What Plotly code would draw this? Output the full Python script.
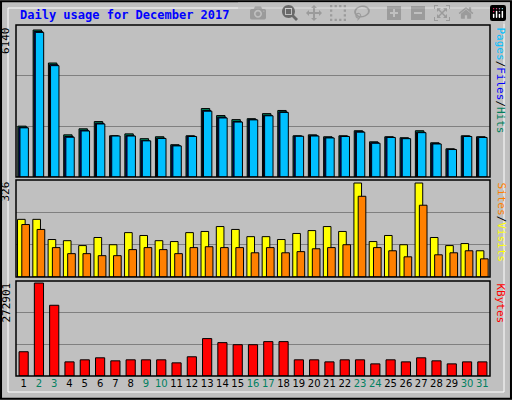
import plotly.graph_objects as go

days = list(range(1, 32))
weekend = {2, 3, 9, 10, 16, 17, 23, 24, 30, 31}
hits = [2110, 6100, 4730, 1750, 2000, 2300, 1710, 1790, 1590, 1670, 1340, 1710, 2840, 2550, 2380, 2420, 2630, 2760, 1710, 1750, 1670, 1710, 1920, 1460, 1670, 1630, 1920, 1420, 1170, 1710, 1670]
files = [2060, 6040, 4660, 1680, 1940, 2230, 1700, 1710, 1510, 1610, 1300, 1690, 2760, 2480, 2300, 2380, 2560, 2700, 1690, 1710, 1630, 1690, 1880, 1420, 1650, 1600, 1860, 1380, 1150, 1690, 1650]
pages = [2040, 6000, 4620, 1650, 1910, 2200, 1700, 1700, 1500, 1600, 1290, 1680, 2730, 2450, 2280, 2370, 2540, 2680, 1690, 1700, 1620, 1680, 1860, 1400, 1640, 1590, 1840, 1370, 1140, 1680, 1640]
visits = [200, 200, 130, 126, 109, 137, 112, 154, 144, 126, 123, 154, 158, 175, 165, 140, 140, 130, 151, 161, 175, 158, 326, 123, 144, 112, 326, 137, 109, 116, 91]
sites = [182, 165, 102, 81, 81, 74, 74, 95, 102, 95, 81, 102, 105, 102, 102, 84, 102, 84, 88, 98, 102, 112, 280, 102, 91, 70, 249, 77, 84, 91, 63]
kbytes = [71200, 272901, 207600, 41500, 47500, 53400, 44500, 47500, 47500, 47500, 38600, 56400, 109800, 97900, 91900, 91900, 100900, 100900, 47500, 47500, 41500, 47500, 47500, 35600, 47500, 41500, 53400, 44500, 35600, 41500, 41500]

BG = "#c0c0c0"
fig = go.Figure()
line = dict(color="black", width=1)
fig.add_bar(x=days, y=hits, width=0.55, offset=-0.38, marker=dict(color="#00805c", line=line), xaxis="x", yaxis="y")
fig.add_bar(x=days, y=files, width=0.55, offset=-0.31, marker=dict(color="#0000ff", line=line), xaxis="x", yaxis="y")
fig.add_bar(x=days, y=pages, width=0.55, offset=-0.24, marker=dict(color="#00c0ff", line=line), xaxis="x", yaxis="y")
fig.add_bar(x=days, y=visits, width=0.5, offset=-0.4, marker=dict(color="#ffff00", line=line), xaxis="x2", yaxis="y2")
fig.add_bar(x=days, y=sites, width=0.5, offset=-0.12, marker=dict(color="#ff8000", line=line), xaxis="x2", yaxis="y2")
fig.add_bar(x=days, y=kbytes, width=0.6, offset=-0.3, marker=dict(color="#ff0000", line=line), xaxis="x3", yaxis="y3")

xd = [16/512, 490/512]
r1, r2, r3 = 6140*151/147, 326*96/93, 272901*94/92
ticktext = [f"<span style='color:{'#008060' if d in weekend else 'black'}'>{d}</span>" for d in days]
xcommon = dict(domain=xd, range=[0.5, 31.5], showgrid=False, zeroline=False, fixedrange=True)
ycommon = dict(showticklabels=False, ticks="", zeroline=False, gridcolor="#808080", gridwidth=1)
fig.update_layout(
    width=512, height=400, margin=dict(l=0, r=0, t=0, b=0),
    paper_bgcolor=BG, plot_bgcolor=BG, showlegend=False, barmode="overlay",
    font=dict(family="DejaVu Sans Mono", size=11, color="black"),
    xaxis=dict(**xcommon, anchor="y", showticklabels=False),
    xaxis2=dict(**xcommon, anchor="y2", showticklabels=False),
    xaxis3=dict(**xcommon, anchor="y3", tickmode="array", tickvals=days, ticktext=ticktext, ticks="",
                tickangle=0, tickfont=dict(size=10, family="DejaVu Sans")),
    yaxis=dict(**ycommon, domain=[0.5575, 0.9375], range=[0, r1], tick0=0, dtick=r1/3),
    yaxis2=dict(**ycommon, domain=[0.3075, 0.55], range=[0, r2], tick0=0, dtick=r2/3),
    yaxis3=dict(**ycommon, domain=[0.06, 0.2975], range=[0, r3], tick0=0, dtick=r3/3),
)
shapes = [
    dict(type="rect", xref="paper", yref="paper", x0=0.002, x1=0.998, y0=0.003, y1=0.997, line=dict(color="black", width=2)),
    dict(type="rect", xref="paper", yref="paper", x0=8/512, x1=504/512, y0=8/400, y1=392/400, line=dict(color="white", width=1)),
]
for d in [[0.5575, 0.9375], [0.3075, 0.55], [0.06, 0.2975]]:
    shapes.append(dict(type="rect", xref="paper", yref="paper", x0=xd[0], x1=xd[1], y0=d[0], y1=d[1], line=dict(color="black", width=1.5)))
fig.update_layout(shapes=shapes)
ann = [
    dict(x=18/512, y=1-15/400, text="<b>Daily usage for December 2017</b>", showarrow=False, xanchor="left", yanchor="middle", font=dict(color="#0000ff", size=12, family="DejaVu Sans Mono")),
    dict(x=14/512, y=0.9375, text="6140", textangle=-90, showarrow=False, xanchor="right", yanchor="top"),
    dict(x=14/512, y=0.55, text="326", textangle=-90, showarrow=False, xanchor="right", yanchor="top"),
    dict(x=14/512, y=0.2975, text="272901", textangle=-90, showarrow=False, xanchor="right", yanchor="top"),
    dict(x=492/512, y=0.9375, textangle=90, showarrow=False, xanchor="left", yanchor="top",
         text="<span style='color:#00c0ff'>Pages</span>/<span style='color:#0000ff'>Files</span>/<span style='color:#00805c'>Hits</span>"),
    dict(x=492/512, y=0.55, textangle=90, showarrow=False, xanchor="left", yanchor="top",
         text="<span style='color:#ff8000'>Sites</span>/<span style='color:#ffff00'>Visits</span>"),
    dict(x=492/512, y=0.2975, textangle=90, showarrow=False, xanchor="left", yanchor="top",
         text="<span style='color:#ff0000'>KBytes</span>"),
]
for a in ann:
    a.update(xref="paper", yref="paper")
fig.update_layout(annotations=ann)
fig.write_html("out.html", post_script="document.body.style.margin='0';document.body.style.overflow='hidden';")
